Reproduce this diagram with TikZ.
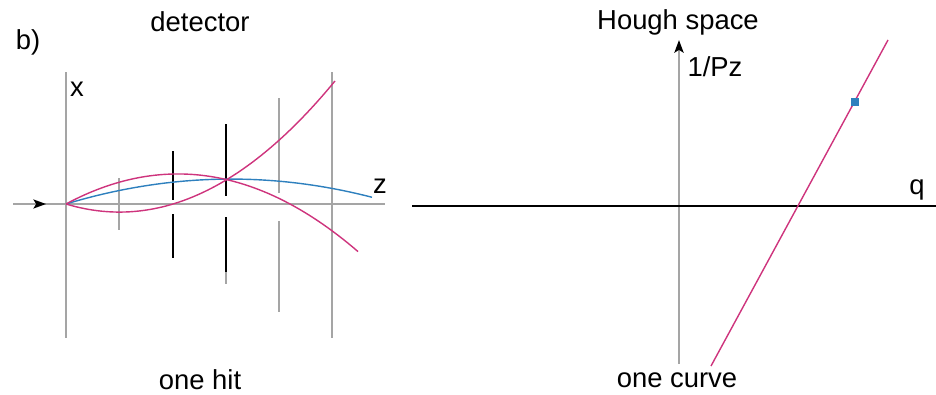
\documentclass[tikz,border=0pt]{standalone}
\usepackage{fontspec}
\setmainfont{Liberation Sans}
\usetikzlibrary{arrows.meta,positioning}
\definecolor{trackpink}{RGB}{206,52,125}
\definecolor{trackblue}{RGB}{46,128,190}
\definecolor{axisgray}{RGB}{165,165,165}
\tikzset{
  lbl/.style={font=\fontsize{19.5}{22}\selectfont, inner sep=0pt},
  axisline/.style={draw=axisgray, line width=1pt},
  plane/.style={draw=axisgray, line width=1.5pt},
  planedark/.style={draw=black, line width=1.3pt},
  track/.style={draw=trackpink, line width=1pt},
  fit track/.style={draw=trackblue, line width=1pt}
}
\begin{document}
\begin{tikzpicture}[x=0.025cm, y=-0.025cm,
    tip/.style={-{Stealth[black, length=9pt, width=6.5pt, inset=2pt]}}
]
  \useasboundingbox (0,0) rectangle (936,395);

  % Titles
  \node[lbl] (panel) at (28,42) {b)};
  \node[lbl] (det) at (200,22) {detector};
  \node[lbl] (hit) at (200,380) {one hit};

  % Detector axes
  \coordinate (orig) at (66,204);
  \coordinate (xtop) at (66,72);
  \coordinate (xbot) at (66,338);
  \coordinate (zin)  at (13,204);
  \coordinate (zmid) at (46,204);
  \coordinate (zend) at (385,204);
  \draw[axisline] (xtop) -- (xbot);
  \draw[axisline] (zin) -- (zend);
  \draw[axisline, tip] (zin) -- (zmid);
  \node[lbl] (xl) at (77,89) {x};
  \node[lbl] (zl) at (380,186) {z};

  % Detector planes
  \draw[plane] (119,178) -- (119,230);
  \draw[planedark] (173,151) -- (173,200);
  \draw[planedark] (173,214) -- (173,258);
  \draw[planedark] (226,124) -- (226,196);
  \draw[planedark] (226,217) -- (226,272);
  \draw[plane] (226,272) -- (226,284);
  \draw[plane] (279,98) -- (279,193);
  \draw[plane] (279,221) -- (279,312);
  \draw[plane, line width=2pt] (332,72) -- (332,338);

  % Tracks
  \draw[fit track] plot[domain=0:306, samples=60]
    ({66+\x}, {204-0.000918*\x*(330-\x)});
  \draw[track] plot[domain=0:292, samples=60]
    ({66+\x}, {204-0.00239*\x*(224-\x)});
  \draw[track] plot[domain=0:269, samples=60]
    ({66+\x}, {204-0.00283*\x*(\x-107)});

  % Hough space
  \node[lbl] (hough) at (678,22) {Hough space};
  \node[lbl] (curve) at (677,380) {one curve};
  \coordinate (pbot) at (679,364);
  \coordinate (ptop) at (679,40);
  \coordinate (qin)  at (412,206);
  \coordinate (qend) at (936,206);
  \draw[draw=axisgray, line width=2pt, tip] (pbot) -- (ptop);
  \draw[black, line width=1.2pt] (qin) -- (qend);
  \node[lbl] (pz) at (715,67) {1/Pz};
  \node[lbl] (ql) at (917,190) {q};

  % Hough line and point
  \coordinate (lbot) at (711,366);
  \coordinate (ltop) at (888,40);
  \draw[track] (lbot) -- (ltop);
  \node[fill=trackblue, minimum size=5pt, inner sep=0pt] (pt) at (855,102) {};
\end{tikzpicture}
\end{document}
